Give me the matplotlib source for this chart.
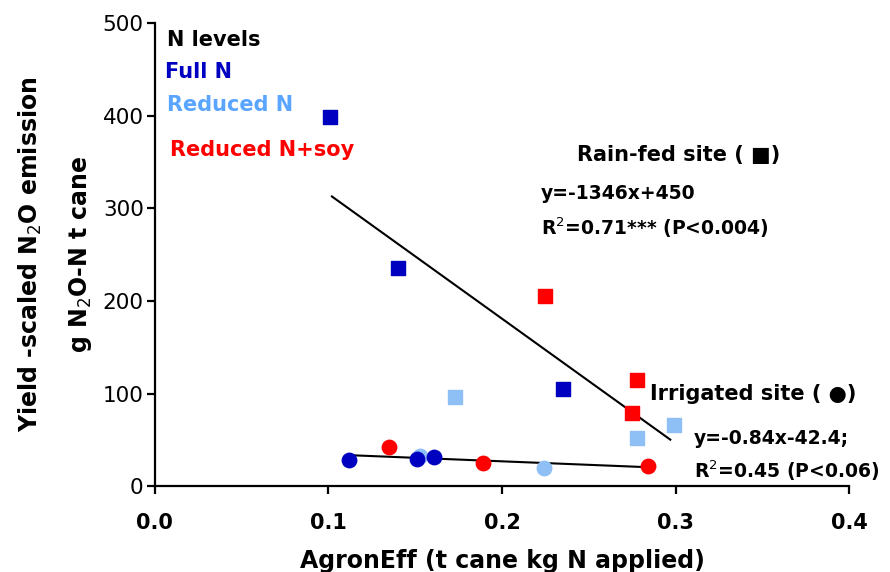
import numpy as np
import matplotlib.pyplot as plt

plt.rcParams['font.family'] = ['DejaVu Sans']

# N levels colours
full_c = '#0000c0'
red_c = '#8fc0f5'
red_txt = '#5aa5ff'
soy_c = '#ff0000'

# rain-fed site (squares)
rain_full_x = [0.101, 0.140, 0.235]
rain_full_y = [398, 235, 105]
rain_red_x = [0.173, 0.278, 0.299]
rain_red_y = [96, 52, 66]
rain_soy_x = [0.225, 0.278, 0.275]
rain_soy_y = [205, 115, 79]

# irrigated site (circles)
irr_full_x = [0.112, 0.151, 0.161]
irr_full_y = [28, 29, 31]
irr_red_x = [0.153, 0.224]
irr_red_y = [33, 20]
irr_soy_x = [0.135, 0.189, 0.284]
irr_soy_y = [42, 25, 22]

# regression lines
rain_fit_x = np.array([0.102, 0.297])
rain_slope, rain_icpt = -1346, 450
irr_fit_x = [0.112, 0.284]
irr_fit_y = [33.5, 20.5]

fig = plt.figure(figsize=(8.9, 5.72), dpi=100)
ax = fig.add_axes([0.174, 0.150, 0.780, 0.810])

ax.plot(rain_fit_x, rain_slope*rain_fit_x + rain_icpt, color='black', lw=1.5, zorder=1)
ax.plot(irr_fit_x, irr_fit_y, color='black', lw=1.5, zorder=1)

ms = 88
ax.scatter(rain_full_x, rain_full_y, marker='s', s=ms, color=full_c, zorder=3)
ax.scatter(rain_red_x, rain_red_y, marker='s', s=ms, color=red_c, zorder=3)
ax.scatter(rain_soy_x, rain_soy_y, marker='s', s=ms, color=soy_c, zorder=3)
ax.scatter(irr_red_x, irr_red_y, marker='o', s=ms+20, color=red_c, zorder=2)
ax.scatter(irr_full_x, irr_full_y, marker='o', s=ms+20, color=full_c, zorder=3)
ax.scatter(irr_soy_x, irr_soy_y, marker='o', s=ms+20, color=soy_c, zorder=3)

ax.set_xlim(0, 0.4)
ax.set_ylim(0, 500)
ax.set_xticks([0.0, 0.1, 0.2, 0.3, 0.4])
ax.set_xticklabels(['0.0', '0.1', '0.2', '0.3', '0.4'], fontweight='bold', fontsize=15)
ax.set_yticks([0, 100, 200, 300, 400, 500])
ax.set_yticklabels(['0', '100', '200', '300', '400', '500'], fontsize=15.5)
ax.spines['top'].set_visible(False)
ax.spines['right'].set_visible(False)
ax.spines['left'].set_linewidth(1.6)
ax.spines['bottom'].set_linewidth(1.6)
ax.tick_params(length=6, width=1.6, pad=2)
ax.tick_params(axis='x', pad=13)

ax.set_xlabel('AgronEff (t cane kg N applied)', fontsize=17, fontweight='bold', labelpad=12)
fig.text(0.034, 0.555, r'Yield -scaled N$_2$O emission', rotation=90, fontsize=17,
         fontweight='bold', ha='center', va='center')
fig.text(0.090, 0.555, r'g N$_2$O-N t cane', rotation=90, fontsize=17,
         fontweight='bold', ha='center', va='center')

# legend written as text
ax.text(0.018, 0.964, 'N levels', transform=ax.transAxes, fontsize=15, fontweight='bold',
        color='black', va='center')
ax.text(0.015, 0.893, 'Full N', transform=ax.transAxes, fontsize=15, fontweight='bold',
        color=full_c, va='center')
ax.text(0.018, 0.822, 'Reduced N', transform=ax.transAxes, fontsize=15, fontweight='bold',
        color=red_txt, va='center')
ax.text(0.022, 0.725, 'Reduced N+soy', transform=ax.transAxes, fontsize=15, fontweight='bold',
        color=soy_c, va='center')

ax.text(0.608, 0.715, 'Rain-fed site ( \u25a0)', transform=ax.transAxes, fontsize=15,
        fontweight='bold', va='center')
ax.text(0.556, 0.632, 'y=-1346x+450', transform=ax.transAxes, fontsize=13.5,
        fontweight='bold', va='center')
ax.text(0.556, 0.557, r'R$^2$=0.71*** (P<0.004)', transform=ax.transAxes, fontsize=13.5,
        fontweight='bold', va='center')
ax.text(0.713, 0.198, 'Irrigated site ( \u25cf)', transform=ax.transAxes, fontsize=15,
        fontweight='bold', va='center')
ax.text(0.777, 0.104, 'y=-0.84x-42.4;', transform=ax.transAxes, fontsize=13.5,
        fontweight='bold', va='center', clip_on=False)
ax.text(0.777, 0.033, r'R$^2$=0.45 (P<0.06)', transform=ax.transAxes, fontsize=13.5,
        fontweight='bold', va='center', clip_on=False)

fig.savefig('out.png', dpi=100)
